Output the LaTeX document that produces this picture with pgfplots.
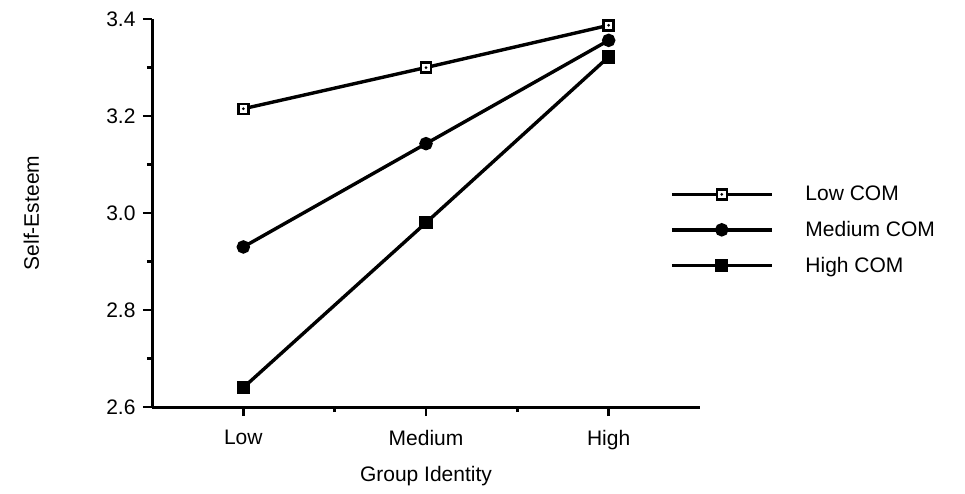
\documentclass[border=0pt]{standalone}
\usepackage{pgfplots}
\pgfplotsset{compat=1.18}
\usepackage{fontspec}
\setmainfont{Liberation Sans}
\pgfdeclareplotmark{sqdot}{%
  \pgfpathrectangle{\pgfqpoint{-\pgfplotmarksize}{-\pgfplotmarksize}}{\pgfqpoint{2\pgfplotmarksize}{2\pgfplotmarksize}}%
  \pgfusepathqfillstroke
  \pgfscope
  \pgfsetfillcolor{black}%
  \pgfpathcircle{\pgfqpoint{0pt}{0pt}}{0.3\pgfplotmarksize}%
  \pgfusepathqfill
  \endpgfscope}
\begin{document}
\begin{tikzpicture}[x=1pt,y=1pt]
\useasboundingbox (0,0) rectangle (965,493);
\begin{axis}[
  at={(152pt,86pt)}, anchor=south west,
  scale only axis, width=548pt, height=388pt,
  xmin=-0.5, xmax=2.5, ymin=2.6, ymax=3.4,
  clip=false,
  axis lines=left, axis line style={-, line width=3pt},
  xtick={0,1,2}, xticklabels={Low,Medium,High},
  minor xtick={0.5,1.5},
  ytick={2.6,2.8,3.0,3.2,3.4}, minor ytick={2.7,2.9,3.1,3.3},
  tick align=outside, major tick length=9pt, minor tick length=5pt,
  every tick/.style={line width=2.5pt, black},
  yticklabel style={xshift=-4pt, /pgf/number format/.cd, fixed, fixed zerofill, precision=1},
  xticklabel style={yshift=-11pt},
  /pgf/number format/assume math mode=true,
  tick label style={font=\fontsize{21}{24}\selectfont},
  label style={font=\fontsize{21}{24}\selectfont},
  xlabel={Group Identity}, ylabel={Self-Esteem},
  xlabel style={at={(axis description cs:0.5,-0.178)}, anchor=center},
  ylabel style={at={(axis description cs:-0.22,0.5)}, anchor=center},
  legend style={draw=none, fill=none, at={(axis description cs:0.945,0.456)}, anchor=west,
    font=\fontsize{21}{24}\selectfont, row sep=15pt, inner sep=0pt,
    /tikz/every odd column/.append style={column sep=30pt}},
  legend cell align=left,
  legend image code/.code={\draw[mark repeat=2,mark phase=2,#1] plot coordinates {(0pt,0pt) (50pt,0pt) (100pt,0pt)};},
]
\addplot[black, line width=3.4pt, mark=sqdot, mark size=5pt, mark options={line width=2.4pt, fill=white, solid}]
  coordinates {(0,3.215) (1,3.300) (2,3.387)};
\addlegendentry{Low COM}
\addplot[black, line width=3.4pt, mark=*, mark size=5pt, mark options={solid}]
  coordinates {(0,2.930) (1,3.143) (2,3.356)};
\addlegendentry{Medium COM}
\addplot[black, line width=3.4pt, mark=square*, mark size=5pt, mark options={solid}]
  coordinates {(0,2.640) (1,2.980) (2,3.322)};
\addlegendentry{High COM}
\end{axis}
\end{tikzpicture}
\end{document}
